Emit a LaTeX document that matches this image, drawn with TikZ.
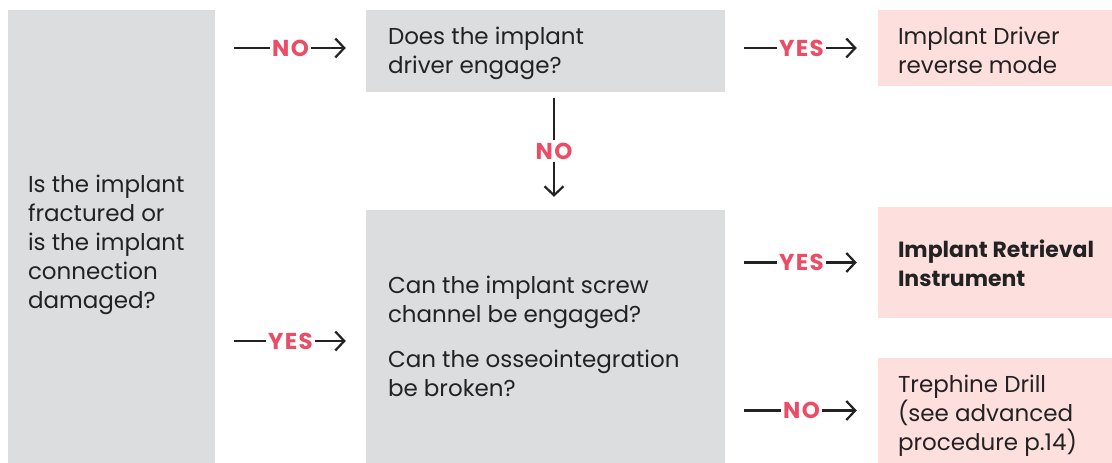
\documentclass[tikz,border=0pt]{standalone}
\usepackage{fontspec}
\setmainfont{Poppins}
\usetikzlibrary{arrows.meta}
\definecolor{boxgray}{HTML}{DCDDDF}
\definecolor{boxpink}{HTML}{FDE0DE}
\definecolor{labred}{HTML}{EA4D65}
\definecolor{ink}{HTML}{222222}
\newcommand{\boxtext}[3]{\raisebox{#1}[\height][\depth]{\parbox{#2}{\raggedright\hyphenpenalty=10000 #3}}}
\tikzset{
  x=1pt,y=1pt,
  every node/.style={font=\fontsize{23}{29}\selectfont, text=ink},
  qbox/.style={rectangle, fill=boxgray, inner sep=0pt, anchor=center},
  abox/.style={rectangle, fill=boxpink, inner sep=0pt, anchor=center},
  conn/.style={draw=ink, line width=2.2pt, -{Straight Barb[length=9pt,width=19pt,line width=2.2pt]}},
  lab/.style={fill=white, inner xsep=2pt, inner ysep=1pt, text=labred, font=\fontsize{23}{24}\selectfont\bfseries\addfontfeatures{LetterSpace=6}}
}
\begin{document}
\begin{tikzpicture}
\useasboundingbox (0,0) rectangle (1112,463);
\node[qbox, minimum width=207pt, minimum height=453pt] (left) at (111.5,226.5)
  {\boxtext{-8pt}{167pt}{Is the implant\\ fractured or\\ is the implant\\ connection\\ damaged?}};
\node[qbox, minimum width=359pt, minimum height=82pt] (top) at (545.5,412)
  {\boxtext{-2pt}{315pt}{Does the implant\\ driver engage?}};
\node[abox, minimum width=234pt, minimum height=76pt] (pink1) at (995,415)
  {\boxtext{-2pt}{194pt}{Implant Driver\\ reverse mode}};
\node[qbox, minimum width=359pt, minimum height=253pt] (mid) at (545.5,126.5)
  {\boxtext{0pt}{315pt}{Can the implant screw\\ channel be engaged?\\[16pt] Can the osseointegration\\ be broken?}};
\node[abox, minimum width=234pt, minimum height=111pt, font=\fontsize{22}{29}\selectfont\bfseries] (pink2) at (995,200.5)
  {\boxtext{-1pt}{194pt}{\mbox{Implant Retrieval}\\ Instrument}};
\node[abox, minimum width=234pt, minimum height=105pt] (pink3) at (995,52.5)
  {\boxtext{-5pt}{194pt}{Trephine Drill\\ (see advanced\\ procedure p.14)}};
\draw[conn, shorten <=19pt, shorten >=20pt] (left.east |- pink1.west) -- node[lab]{NO} (top.west |- pink1.west);
\draw[conn, shorten <=19pt, shorten >=21pt] (top.east |- pink1.west) -- node[lab]{YES} (pink1.west);
\draw[conn, shorten <=6pt, shorten >=13pt] ([xshift=8.5pt]top.south) -- node[lab, inner xsep=1pt, inner ysep=3pt]{NO} ([xshift=8.5pt]top.south |- mid.north);
\draw[conn, shorten <=19pt, shorten >=20pt] ([yshift=-4.5pt]left.east |- mid.west) -- node[lab]{YES} ([yshift=-4.5pt]mid.west);
\draw[conn, shorten <=19pt, shorten >=21pt] (mid.east |- pink2.west) -- node[lab]{YES} (pink2.west);
\draw[conn, shorten <=19pt, shorten >=21pt] (mid.east |- pink3.west) -- node[lab]{NO} (pink3.west);
\end{tikzpicture}
\end{document}
